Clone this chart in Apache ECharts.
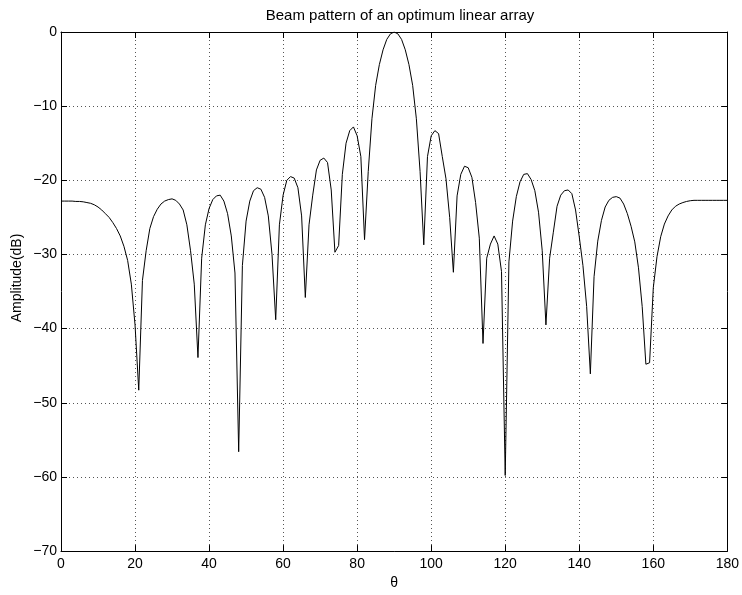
<!DOCTYPE html>
<html>
<head>
<meta charset="utf-8">
<script src="https://cdn.jsdelivr.net/npm/echarts@6/dist/echarts.min.js"></script>
<style>
html,body{margin:0;padding:0;background:#fff;}
#chart{width:742px;height:595px;}
</style>
</head>
<body>
<div id="chart"></div>
<script>
const chartTitle = 'Beam pattern of an optimum linear array';
const xName = 'θ';
const yName = 'Amplitude(dB)';
const xTicks = [0, 20, 40, 60, 80, 100, 120, 140, 160, 180];
const yTicks = [-70, -60, -50, -40, -30, -20, -10, 0];

const theta = [
  0,1,2,3,4,5,6,7,8,9,10,11,12,13,14,15,16,17,18,19,
  20,21,22,23,24,25,26,27,28,29,30,31,32,33,34,35,36,37,38,39,
  40,41,42,43,44,45,46,47,48,49,50,51,52,53,54,55,56,57,58,59,
  60,61,62,63,64,65,66,67,68,69,70,71,72,73,74,75,76,77,78,79,
  80,81,82,83,84,85,86,87,88,89,90,91,92,93,94,95,96,97,98,99,
  100,101,102,103,104,105,106,107,108,109,110,111,112,113,114,115,116,117,118,119,
  120,121,122,123,124,125,126,127,128,129,130,131,132,133,134,135,136,137,138,139,
  140,141,142,143,144,145,146,147,148,149,150,151,152,153,154,155,156,157,158,159,
  160,161,162,163,164,165,166,167,168,169,170,171,172,173,174,175,176,177,178,179,
  180
];

const amplitude = [
  -22.8,-22.8,-22.8,-22.8,-22.85,-22.85,-22.9,-23.0,-23.1,-23.3,
  -23.6,-24.0,-24.5,-25.0,-25.7,-26.5,-27.5,-28.9,-30.8,-34.0,
  -39.5,-48.3,-33.5,-29.5,-26.5,-24.9,-23.9,-23.2,-22.8,-22.6,
  -22.5,-22.7,-23.2,-24.0,-26.0,-29.5,-34.0,-43.9,-30.5,-26.0,
  -23.8,-22.6,-22.1,-22.0,-22.8,-24.5,-27.5,-32.5,-56.6,-31.5,
  -25.5,-22.8,-21.4,-21.0,-21.2,-22.3,-24.8,-30.0,-38.8,-26.0,
  -22.0,-20.0,-19.5,-19.7,-21.0,-24.8,-35.8,-26.0,-22.0,-18.6,
  -17.3,-17.0,-17.6,-21.3,-29.7,-28.8,-19.2,-15.0,-13.3,-12.8,
  -14.0,-16.8,-28.0,-18.8,-11.7,-7.2,-4.4,-2.4,-1.0,-0.25,
  0,-0.25,-1.0,-2.4,-4.4,-7.2,-11.7,-18.8,-28.7,-16.8,
  -14.0,-13.3,-13.7,-16.8,-19.8,-25.0,-32.4,-22.1,-19.2,-18.1,
  -18.3,-19.6,-23.0,-27.8,-42.0,-30.5,-28.6,-27.5,-28.6,-32.3,
  -59.8,-31.0,-25.5,-22.2,-20.2,-19.2,-19.1,-19.9,-21.4,-24.3,
  -29.5,-39.5,-30.5,-27.0,-23.5,-22.0,-21.4,-21.3,-21.8,-24.0,
  -27.6,-31.5,-37.0,-46.1,-33.0,-28.2,-25.4,-23.6,-22.7,-22.3,
  -22.2,-22.4,-23.2,-24.5,-26.2,-28.3,-31.8,-37.0,-44.8,-44.6,
  -34.5,-30.3,-27.6,-25.9,-24.8,-24.0,-23.5,-23.2,-23.0,-22.85,
  -22.75,-22.7,-22.7,-22.7,-22.7,-22.7,-22.7,-22.7,-22.7,-22.7,
  -22.7
];

const FONT = '"Liberation Sans", Arial, Helvetica, sans-serif';
const FS = 14;
const chart = echarts.init(document.getElementById('chart'), null, {renderer: 'canvas'});

const seriesData = theta.map((t, i) => [t, amplitude[i]]);
const minus = v => String(v).replace('-', '\u2212');

const gridLeft = 61, gridRight = 13, gridTop = 32, gridBottom = 37;
const plotCenterX = gridLeft + (742 - gridLeft - gridRight) / 2;

const baseTick = {show: true, inside: true, length: 6, lineStyle: {color: '#000', width: 1}};
const baseLine = {show: true, onZero: false, lineStyle: {color: '#000', width: 1}};
const gridLine = {show: true, lineStyle: {color: '#555', width: 1, type: [1, 3]}};

chart.setOption({
  animation: false,
  backgroundColor: '#fff',
  title: {
    text: chartTitle,
    left: plotCenterX,
    textAlign: 'center',
    top: 3,
    textStyle: {fontFamily: FONT, fontSize: 15, fontWeight: 'normal', color: '#000'}
  },
  graphic: [{
    type: 'text',
    x: 17, y: 278,
    rotation: Math.PI / 2,
    style: {
      text: yName,
      font: FS + 'px ' + FONT,
      fill: '#000',
      align: 'center',
      verticalAlign: 'middle'
    }
  }],
  grid: {left: gridLeft, right: gridRight, top: gridTop, bottom: gridBottom, containLabel: false},
  xAxis: [
    {
      type: 'value', min: xTicks[0], max: xTicks[xTicks.length - 1], interval: 20,
      position: 'bottom',
      name: xName, nameLocation: 'middle', nameGap: 20,
      nameTextStyle: {fontFamily: FONT, fontSize: FS, color: '#000'},
      axisLine: baseLine, axisTick: baseTick,
      axisLabel: {fontFamily: FONT, fontSize: FS, color: '#000', margin: 6},
      splitLine: gridLine
    },
    {
      type: 'value', min: xTicks[0], max: xTicks[xTicks.length - 1], interval: 20,
      position: 'top',
      axisLine: baseLine, axisTick: baseTick,
      axisLabel: {show: false}, splitLine: {show: false}
    }
  ],
  yAxis: [
    {
      type: 'value', min: yTicks[0], max: yTicks[yTicks.length - 1], interval: 10,
      position: 'left',
      axisLine: baseLine, axisTick: baseTick,
      axisLabel: {fontFamily: FONT, fontSize: FS, color: '#000', margin: 4, formatter: minus},
      splitLine: gridLine
    },
    {
      type: 'value', min: yTicks[0], max: yTicks[yTicks.length - 1], interval: 10,
      position: 'right',
      axisLine: baseLine, axisTick: baseTick,
      axisLabel: {show: false}, splitLine: {show: false}
    }
  ],
  series: [{
    type: 'line',
    xAxisIndex: 0, yAxisIndex: 0,
    data: seriesData,
    showSymbol: false,
    symbol: 'none',
    smooth: false,
    clip: true,
    lineStyle: {color: '#000', width: 1}
  }]
});
</script>
</body>
</html>
